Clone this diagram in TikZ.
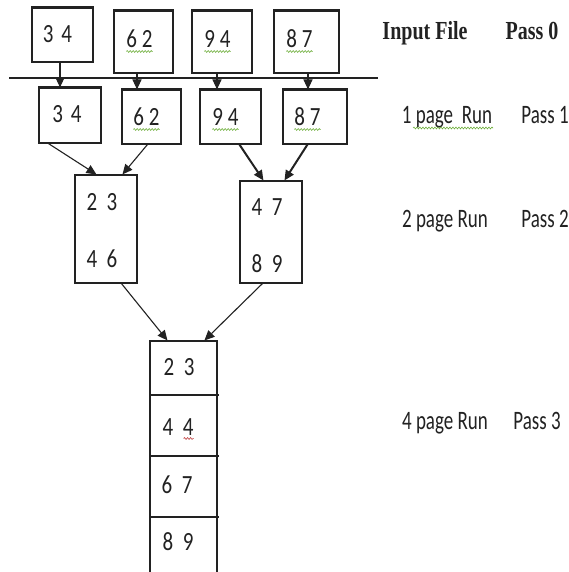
\documentclass[tikz,border=0pt]{standalone}
\usepackage{fontspec}
\usepackage{graphicx}
\setmainfont{Carlito}
\newfontfamily\hdrfont{Liberation Serif}
\usetikzlibrary{arrows.meta,decorations.pathmorphing}
\definecolor{ink}{HTML}{222222}
\definecolor{sqgreen}{HTML}{6FAF3C}
\definecolor{sqred}{HTML}{C04040}
\newcommand\dgt[1]{\scalebox{1}[1.25]{#1}}
\newcommand\lbt[1]{\scalebox{1}[1.4]{#1}}
\newcommand\hdt[1]{\scalebox{1}[1.3]{#1}}
\begin{document}
\begin{tikzpicture}[x=1pt,y=-1pt,
  box/.style={draw=ink,line width=1.1pt,inner sep=0pt},
  num/.style={anchor=base,inner sep=0pt,text=ink,font=\fontsize{21}{25}\selectfont},
  lbl/.style={anchor=base,inner sep=0pt,text=ink,font=\fontsize{19}{23}\selectfont},
  hdr/.style={anchor=base,inner sep=0pt,text=ink,font=\hdrfont\bfseries\fontsize{20}{24}\selectfont},
  topedge/.style={draw=ink,line width=3pt},
  arr/.style={draw=ink,line width=1.1pt,-{Triangle[length=10pt,width=9pt]}},
  arrb/.style={draw=ink,line width=2pt,-{Triangle[length=10pt,width=9pt]}},
  squig/.style={draw=sqgreen,line width=0.6pt,decorate,decoration={snake,amplitude=0.9pt,segment length=3pt}},
  squigr/.style={draw=sqred,line width=0.6pt,decorate,decoration={snake,amplitude=0.9pt,segment length=3pt}}]
\clip (0,0) rectangle (569,572);
\fill[white] (0,0) rectangle (569,572);

% separator line
\coordinate (sepL) at (9,78);
\coordinate (sepR) at (378,78);
\draw[ink,line width=1.1pt] (sepL) -- (sepR);

% Pass 0 boxes
\node[box,minimum width=61pt,minimum height=54pt] (b1) at (62.5,35) {};
\node[box,minimum width=59pt,minimum height=62pt] (b2) at (143.5,42) {};
\node[box,minimum width=60pt,minimum height=62pt] (b3) at (222,42) {};
\node[box,minimum width=65pt,minimum height=62pt] (b4) at (306.5,42) {};
\foreach \n in {b1,b2,b3,b4}{\draw[topedge] (\n.north west) -- (\n.north east);}
\node[num] (tb1) at (57.5,43) {\dgt{3\hspace{3pt} 4}};
\node[num] (tb2) at (139.5,48) {\dgt{6 2}};
\node[num] (tb3) at (217.5,48) {\dgt{9 4}};
\node[num] (tb4) at (299.5,48) {\dgt{8 7}};

% Pass 1 boxes
\node[box,minimum width=62pt,minimum height=55pt] (a1) at (70,115.5) {};
\node[box,minimum width=59pt,minimum height=54pt] (a2) at (151.5,117) {};
\node[box,minimum width=61pt,minimum height=54pt] (a3) at (230.5,117) {};
\node[box,minimum width=64pt,minimum height=54pt] (a4) at (315,117) {};
\foreach \n in {a1,a2,a3,a4}{\draw[topedge] (\n.north west) -- (\n.north east);}
\node[num] (ta1) at (67,123) {\dgt{3\hspace{3pt} 4}};
\node[num] (ta2) at (146.5,126) {\dgt{6 2}};
\node[num] (ta3) at (225.5,126) {\dgt{9 4}};
\node[num] (ta4) at (307.5,126) {\dgt{8 7}};

% spell-check squiggles
\foreach \n in {tb2,tb3,tb4,ta2,ta3,ta4}{
  \draw[squig] ([yshift=-3.5pt]\n.base west) -- ([yshift=-3.5pt]\n.base east);}

% Pass 0 -> Pass 1 arrows
\draw[arr] ([xshift=-2.5pt]b1.south) -- ([xshift=-2.5pt]b1.south |- a1.north);
\draw[arr] ([xshift=-6.5pt]b2.south) -- ([xshift=-6.5pt]b2.south |- a2.north);
\draw[arr] ([xshift=-5pt]b3.south) -- ([xshift=-5pt]b3.south |- a3.north);
\draw[arr] ([xshift=1.5pt]b4.south) -- ([xshift=1.5pt]b4.south |- a4.north);

% Pass 2 boxes
\node[box,minimum width=62pt,minimum height=108pt] (c1) at (106,229) {};
\node[box,minimum width=62pt,minimum height=102pt] (c2) at (271,232) {};
\node[num] (tc1) at (102,210) {\dgt{2\ \ 3}};
\node[num] (tc2) at (102,267) {\dgt{4\ \ 6}};
\node[num] (tc3) at (267,215) {\dgt{4\ \ 7}};
\node[num] (tc4) at (267,272) {\dgt{8\ \ 9}};

% Pass 1 -> Pass 2 arrows
\draw[arr] ([xshift=10pt]a1.south west) -- ([xshift=22pt]c1.north west);
\draw[arr] ([xshift=26pt]a2.south west) -- ([xshift=48pt]c1.north west);
\draw[arrb] ([xshift=40pt]a3.south west) -- ([xshift=24pt]c2.north west);
\draw[arrb] ([xshift=25pt]a4.south west) -- ([xshift=45pt]c2.north west);

% Pass 3 box
\node[box,minimum width=67pt,minimum height=259pt] (d) at (183.5,470.5) {};
\coordinate (dv1) at (219,395);
\coordinate (dv2) at (219,456);
\coordinate (dv3) at (219,517);
\draw[ink,line width=1.1pt] (d.west |- dv1) -- (dv1);
\draw[ink,line width=1.1pt] (d.west |- dv2) -- (dv2);
\draw[ink,line width=1.1pt] (d.west |- dv3) -- (dv3);
\node[num] (td1) at (179,375) {\dgt{2\ \ 3}};
\node[num] (td2) at (178,435) {\dgt{4\ \ 4}};
\node[num] (td3) at (177,493) {\dgt{6\ \ 7}};
\node[num] (td4) at (178,550) {\dgt{8\ \ 9}};
\draw[squigr] ([yshift=-3.5pt,xshift=-10pt]td2.base east) -- ([yshift=-3.5pt]td2.base east);

% Pass 2 -> Pass 3 arrows
\draw[arr] ([xshift=47pt]c1.south west) -- ([xshift=18pt]d.north west);
\draw[arr] ([xshift=23pt]c2.south west) -- ([xshift=55pt]d.north west);

% right-hand labels
\node[hdr] (l0) at (425,40) {\hdt{Input File}};
\node[hdr] (p0) at (532,40) {\hdt{Pass 0}};
\node[lbl] (l1) at (447,124) {\lbt{1 page\ \ Run}};
\node[lbl] (p1) at (545,124) {\lbt{Pass 1}};
\draw[squig] (413,128) -- (493,128);
\node[lbl] (l2) at (445,227) {\lbt{2 page Run}};
\node[lbl] (p2) at (545,227) {\lbt{Pass 2}};
\node[lbl] (l3) at (445,429) {\lbt{4 page Run}};
\node[lbl] (p3) at (537,429) {\lbt{Pass 3}};
\end{tikzpicture}
\end{document}
